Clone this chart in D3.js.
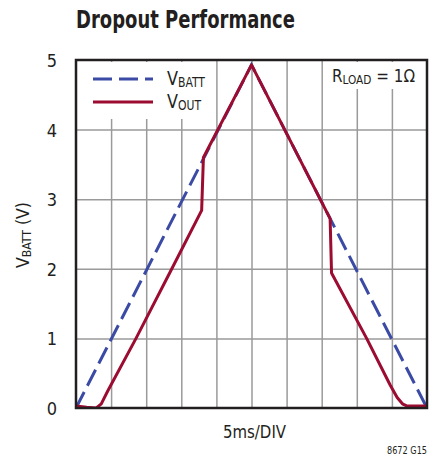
<!DOCTYPE html>
<html>
<head>
<meta charset="utf-8">
<script src="https://cdn.jsdelivr.net/npm/d3@7"></script>
<style>
  body { margin:0; background:#fff; }
  svg text { font-family:"Liberation Sans Narrow","Arial Narrow","DejaVu Sans Condensed",sans-serif; fill:#231f20; }
</style>
</head>
<body>
<svg id="svg" width="441" height="458"></svg>
<script>

// grid divisions (5ms/DIV) and volt ticks
var xGrid = [1,2,3,4,5,6,7,8,9];
var yGrid = [1,2,3,4];
var yTicks = [0,1,2,3,4,5];

// V_BATT : triangle sweep
var battT = [0, 5, 10];
var battV = [0, 4.93, 0];

// V_OUT : dropout behaviour
var outT = [0, 0.3, 0.58, 0.72, 0.9, 1.71, 2.73, 3.58, 3.63, 5, 7.24, 7.28, 8.28, 8.95, 9.15, 9.3, 9.42, 10];
var outV = [0.03, 0.01, 0, 0.06, 0.24, 1, 2, 2.84, 3.6, 4.93, 2.72, 1.94, 1, 0.33, 0.15, 0.06, 0.03, 0.03];

var ink = "#231f20";
var blue = "#3b4ba5";
var red = "#9c0b30";

// plot box  (don't call these top/left: window.top is taken)
var pLeft = 76, pRight = 427, pTop = 60, pBottom = 408;

var x = d3.scaleLinear().domain([0,10]).range([pLeft, pRight]);
var y = d3.scaleLinear().domain([0,5]).range([pBottom, pTop]);

var svg = d3.select("#svg");

// squeeze a text to the width it has in the reference (font is wider here)
var fit = function(sel, w) {
	return sel.attr("textLength", w).attr("lengthAdjust", "spacingAndGlyphs");
};

////////////////////////////
// title
fit(svg.append("text")
	.attr("x", 76)
	.attr("y", 28)
	.attr("font-size", 25)
	.attr("font-weight", "bold")
	.text("Dropout Performance"), 219);

////////////////////////////
// grid
var gx = svg.append("g")
	.attr("transform", "translate(0," + pBottom + ")")
	.call(d3.axisBottom(x).tickValues(xGrid).tickSize(-(pBottom - pTop)).tickFormat(""));
gx.select(".domain").remove();
gx.selectAll("line").attr("stroke", "#9a9a9a").attr("stroke-width", 1.5);

var gy = svg.append("g")
	.attr("transform", "translate(" + pLeft + ",0)")
	.call(d3.axisLeft(y).tickValues(yGrid).tickSize(-(pRight - pLeft)).tickFormat(""));
gy.select(".domain").remove();
gy.selectAll("line").attr("stroke", "#9a9a9a").attr("stroke-width", 1.5);

// y tick labels
var ty = svg.append("g")
	.attr("transform", "translate(" + pLeft + ",0)")
	.call(d3.axisLeft(y).tickValues(yTicks).tickSize(0).tickPadding(19).tickFormat(d3.format("d")));
ty.select(".domain").remove();
ty.attr("font-family", null).attr("font-size", null);
ty.selectAll("text")
	.attr("font-size", 18)
	.attr("fill", ink)
	.attr("dy", "0.36em");

// white boxes behind legend + note
svg.append("rect").attr("x", 78).attr("y", 62).attr("width", 129).attr("height", 57).attr("fill", "#fff");
svg.append("rect").attr("x", 328).attr("y", 62).attr("width", 96).attr("height", 27).attr("fill", "#fff");

////////////////////////////
// curves
svg.append("clipPath").attr("id", "plotclip")
	.append("rect").attr("x", pLeft).attr("y", pTop).attr("width", pRight - pLeft).attr("height", pBottom - pTop);

var line = d3.line()
	.x(function(d){ return x(d[0]); })
	.y(function(d){ return y(d[1]); });

var battPts = battT.map(function(t, i){ return [t, battV[i]]; });
var outPts = outT.map(function(t, i){ return [t, outV[i]]; });

var curves = svg.append("g").attr("clip-path", "url(#plotclip)");

curves.append("path")
	.attr("d", line(battPts))
	.attr("fill", "none")
	.attr("stroke", blue)
	.attr("stroke-width", 3)
	.attr("stroke-dasharray", "18,7");

curves.append("path")
	.attr("d", line(outPts))
	.attr("fill", "none")
	.attr("stroke", red)
	.attr("stroke-width", 3)
	.attr("stroke-linejoin", "round");

// frame
svg.append("rect")
	.attr("x", pLeft).attr("y", pTop)
	.attr("width", pRight - pLeft).attr("height", pBottom - pTop)
	.attr("fill", "none")
	.attr("stroke", ink)
	.attr("stroke-width", 2.5);

////////////////////////////
// legend
svg.append("line").attr("x1", 93).attr("x2", 153).attr("y1", 79).attr("y2", 79)
	.attr("stroke", blue).attr("stroke-width", 3).attr("stroke-dasharray", "19,7");
svg.append("line").attr("x1", 93).attr("x2", 153).attr("y1", 102).attr("y2", 102)
	.attr("stroke", red).attr("stroke-width", 3);

var lb = fit(svg.append("text").attr("x", 167).attr("y", 85), 38);
lb.append("tspan").attr("font-size", 20).text("V");
lb.append("tspan").attr("font-size", 13.5).attr("dy", 2).text("BATT");

var lo = fit(svg.append("text").attr("x", 167).attr("y", 108), 34);
lo.append("tspan").attr("font-size", 20).text("V");
lo.append("tspan").attr("font-size", 13.5).attr("dy", 2).text("OUT");

var rl = fit(svg.append("text").attr("x", 332).attr("y", 82), 83);
rl.append("tspan").attr("font-size", 18).text("R");
rl.append("tspan").attr("font-size", 12.5).attr("dy", 1.5).text("LOAD");
rl.append("tspan").attr("font-size", 18).attr("dy", -1.5).text(" = 1\u03A9");

////////////////////////////
// axis titles
var yl = fit(svg.append("text")
	.attr("transform", "translate(29,235) rotate(-90)")
	.attr("text-anchor", "middle"), 66);
yl.append("tspan").attr("font-size", 18).text("V");
yl.append("tspan").attr("font-size", 12.5).attr("dy", 1.5).text("BATT");
yl.append("tspan").attr("font-size", 18).attr("dy", -1.5).text(" (V)");

fit(svg.append("text")
	.attr("x", 254.5)
	.attr("y", 438)
	.attr("text-anchor", "middle")
	.attr("font-size", 18)
	.text("5ms/DIV"), 63);

fit(svg.append("text")
	.attr("x", 427)
	.attr("y", 454)
	.attr("text-anchor", "end")
	.attr("font-size", 11)
	.text("8672 G15"), 40);

</script>
</body>
</html>
